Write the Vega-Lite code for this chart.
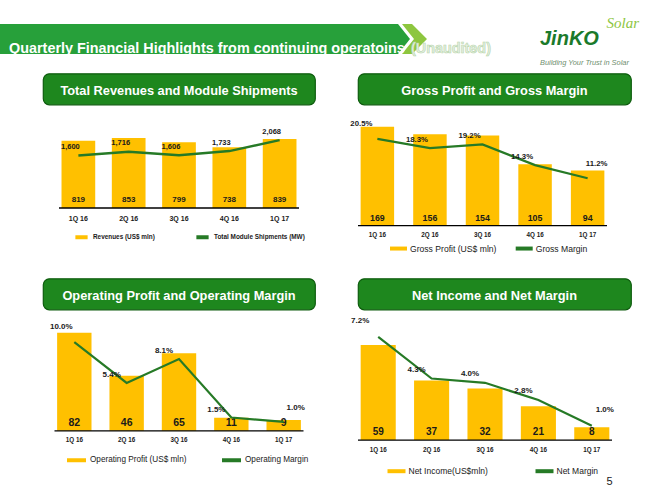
{
  "$schema": "https://vega.github.io/schema/vega-lite/v6.json",
  "background": "white",
  "padding": {"left": 0, "top": 16, "right": 0, "bottom": 0},
  "config": {
    "view": {"stroke": null},
    "font": "Liberation Sans",
    "legend": {"symbolType": "stroke", "symbolStrokeWidth": 4, "padding": 0, "labelColor": "#1a1a1a", "labelLimit": 0, "rowPadding": 0, "labelFont": "Liberation Sans"}
  },
  "datasets": {
    "rev": [
      {"q": "1Q 16", "rev": 819, "ship": 1600},
      {"q": "2Q 16", "rev": 853, "ship": 1716},
      {"q": "3Q 16", "rev": 799, "ship": 1606},
      {"q": "4Q 16", "rev": 738, "ship": 1733},
      {"q": "1Q 17", "rev": 839, "ship": 2068}
    ],
    "gp": [
      {"q": "1Q 16", "v": 169, "m": 0.205},
      {"q": "2Q 16", "v": 156, "m": 0.183},
      {"q": "3Q 16", "v": 154, "m": 0.192},
      {"q": "4Q 16", "v": 105, "m": 0.143},
      {"q": "1Q 17", "v": 94, "m": 0.112}
    ],
    "op": [
      {"q": "1Q 16", "v": 82, "m": 0.100},
      {"q": "2Q 16", "v": 46, "m": 0.054},
      {"q": "3Q 16", "v": 65, "m": 0.081},
      {"q": "4Q 16", "v": 11, "m": 0.015},
      {"q": "1Q 17", "v": 9, "m": 0.010}
    ],
    "ni": [
      {"q": "1Q 16", "v": 59, "m": 0.072},
      {"q": "2Q 16", "v": 37, "m": 0.043},
      {"q": "3Q 16", "v": 32, "m": 0.040},
      {"q": "4Q 16", "v": 21, "m": 0.028},
      {"q": "1Q 17", "v": 8, "m": 0.010}
    ]
  },
  "columns": 2,
  "align": "each",
  "center": true,
  "bounds": "flush",
  "spacing": {"row": 19.5, "column": -5},
  "resolve": {"scale": {"color": "independent"}},
  "concat": [
    {
      "width": 358, "height": 30,
      "view": {"fill": "#27a03a", "stroke": null},
      "data": {"values": [{"t": "Quarterly Financial Highlights from continuing operatoins", "u": "(Unaudited)"}]},
      "layer": [
        {"mark": {"type": "point", "shape": "M-1,-15H40L52,0L40,15H-1Z", "size": 4, "filled": true, "fill": "#27a03a", "strokeWidth": 0, "opacity": 1}, "encoding": {"x": {"value": "width"}}},
        {"mark": {"type": "point", "shape": "M44,-15H54L69,0L54,15H44L56,0Z", "size": 4, "filled": true, "fill": "#8dc63f", "strokeWidth": 0, "opacity": 1}, "encoding": {"x": {"value": "width"}}},
        {"mark": {"type": "text", "align": "left", "baseline": "alphabetic", "dx": 9, "dy": -1.5, "fontWeight": "bold", "fontSize": 14.4, "color": "white"}, "encoding": {"x": {"value": 0}, "y": {"value": "height"}, "text": {"field": "t"}}},
        {"mark": {"type": "text", "align": "left", "baseline": "alphabetic", "dx": 53, "dy": -1.5, "fontWeight": "bold", "fontSize": 14.4, "fill": "#e6f0e2", "stroke": "#b9d6ad", "strokeWidth": 0.6}, "encoding": {"x": {"value": "width"}, "y": {"value": "height"}, "text": {"field": "u"}}}
      ]
    },
    {
      "width": 273, "height": 30,
      "data": {"values": [{"j": "JinKO", "s": "Solar", "b": "Building Your Trust in Solar"}]},
      "layer": [
        {"mark": {"type": "text", "align": "left", "baseline": "alphabetic", "dx": 45.5, "dy": 6, "fontWeight": "bold", "fontStyle": "italic", "fontSize": 20, "color": "#1b7a2b"}, "encoding": {"text": {"field": "j"}}},
        {"mark": {"type": "text", "align": "left", "baseline": "alphabetic", "dx": 112, "dy": -11, "font": "Liberation Serif", "fontStyle": "italic", "fontSize": 15, "color": "#8dc63f"}, "encoding": {"text": {"field": "s"}}},
        {"mark": {"type": "text", "align": "left", "baseline": "alphabetic", "dx": 45.5, "dy": 25.5, "fontStyle": "italic", "fontSize": 7.4, "color": "#6f8f6f"}, "encoding": {"text": {"field": "b"}}}
      ]
    },
    {
      "width": 272, "height": 31,
      "view": {"fill": "#1e871e", "stroke": "#0e5c0e", "strokeWidth": 1.2, "cornerRadius": 6},
      "data": {"values": [{"h": "Total Revenues and Module Shipments"}]},
      "mark": {"type": "text", "baseline": "middle", "dy": 2, "fontWeight": "bold", "fontSize": 12.8, "color": "white"},
      "encoding": {"text": {"field": "h"}}
    },
    {
      "width": 273, "height": 31,
      "view": {"fill": "#1e871e", "stroke": "#0e5c0e", "strokeWidth": 1.2, "cornerRadius": 6},
      "data": {"values": [{"h": "Gross Profit and Gross Margin"}]},
      "mark": {"type": "text", "baseline": "middle", "dy": 2, "fontWeight": "bold", "fontSize": 12.8, "color": "white"},
      "encoding": {"text": {"field": "h"}}
    },
    {
      "width": 240, "height": 134.2,
      "data": {"name": "rev"},
      "layer": [
        {"mark": {"type": "bar"}, "encoding": {"x": {"field": "q", "type": "ordinal", "sort": null, "scale": {"paddingInner": 0.33, "paddingOuter": 0.05}, "axis": null}, "y": {"field": "rev", "type": "quantitative", "scale": {"domain": [-610.7, 1021.9], "nice": false}, "axis": null}, "color": {"datum": "Revenues (US$ mln)", "scale": {"domain": ["Revenues (US$ mln)", "Total Module Shipments (MW)"], "range": ["#ffc000", "#267a26"]}, "legend": {"title": null, "orient": "none", "legendX": 14, "legendY": 104.5, "direction": "horizontal", "symbolSize": 150, "columnPadding": 33, "labelOffset": 3, "labelFontSize": 6.4, "labelFontWeight": "bold"}}}},
        {"data": {"values": [{"b": 0}]}, "mark": {"type": "rule", "color": "#000000", "strokeWidth": 1.3}, "encoding": {"y": {"field": "b", "type": "quantitative", "scale": {"domain": [-610.7, 1021.9], "nice": false}, "axis": null}}},
        {"mark": {"type": "text", "baseline": "middle", "dy": -8, "fontWeight": "bold", "fontSize": 8, "color": "#1a1a1a"}, "encoding": {"x": {"field": "q", "type": "ordinal", "sort": null}, "y": {"datum": 0, "type": "quantitative", "scale": {"domain": [-610.7, 1021.9], "nice": false}, "axis": null}, "text": {"field": "rev"}}},
        {"mark": {"type": "text", "baseline": "middle", "dy": 11, "fontWeight": "bold", "fontSize": 7, "color": "#1a1a1a"}, "encoding": {"x": {"field": "q", "type": "ordinal", "sort": null}, "y": {"datum": 0, "type": "quantitative", "scale": {"domain": [-610.7, 1021.9], "nice": false}, "axis": null}, "text": {"field": "q"}}},
        {"mark": {"type": "line", "strokeWidth": 2.5}, "encoding": {"x": {"field": "q", "type": "ordinal", "sort": null}, "y": {"field": "ship", "type": "quantitative", "scale": {"domain": [-1529.1, 2558.6], "nice": false}, "axis": null}, "color": {"datum": "Total Module Shipments (MW)", "scale": {"domain": ["Revenues (US$ mln)", "Total Module Shipments (MW)"], "range": ["#ffc000", "#267a26"]}, "legend": {"title": null, "orient": "none", "legendX": 14, "legendY": 104.5, "direction": "horizontal", "symbolSize": 150, "columnPadding": 33, "labelOffset": 3, "labelFontSize": 6.4, "labelFontWeight": "bold"}}}},
        {"mark": {"type": "text", "baseline": "middle", "dx": -8, "dy": -8.5, "fontWeight": "bold", "fontSize": 7.5, "color": "#1a1a1a"}, "encoding": {"x": {"field": "q", "type": "ordinal", "sort": null}, "y": {"field": "ship", "type": "quantitative", "scale": {"domain": [-1529.1, 2558.6], "nice": false}, "axis": null}, "text": {"field": "ship", "format": ","}}}
      ],
      "resolve": {"scale": {"y": "independent"}}
    },
    {
      "width": 249, "height": 134.2,
      "data": {"name": "gp"},
      "layer": [
        {"mark": {"type": "bar"}, "encoding": {"x": {"field": "q", "type": "ordinal", "sort": null, "scale": {"paddingInner": 0.363, "paddingOuter": 0.05}, "axis": null}, "y": {"field": "v", "type": "quantitative", "scale": {"domain": [-55.5, 173.5], "nice": false}, "axis": null}, "color": {"datum": "Gross Profit (US$ mln)", "scale": {"domain": ["Gross Profit (US$ mln)", "Gross Margin"], "range": ["#ffc000", "#267a26"]}, "legend": {"title": null, "orient": "none", "legendX": 30, "legendY": 113.8, "direction": "horizontal", "symbolSize": 289, "columnPadding": 10.7, "labelOffset": 1, "labelFontSize": 8.6}}}},
        {"data": {"values": [{"b": 0}]}, "mark": {"type": "rule", "color": "#000000", "strokeWidth": 1.3}, "encoding": {"y": {"field": "b", "type": "quantitative", "scale": {"domain": [-55.5, 173.5], "nice": false}, "axis": null}}},
        {"mark": {"type": "text", "baseline": "middle", "dy": -8, "fontWeight": "bold", "fontSize": 8.8, "color": "#1a1a1a"}, "encoding": {"x": {"field": "q", "type": "ordinal", "sort": null}, "y": {"datum": 0, "type": "quantitative", "scale": {"domain": [-55.5, 173.5], "nice": false}, "axis": null}, "text": {"field": "v"}}},
        {"mark": {"type": "text", "baseline": "middle", "dy": 9.6, "fontWeight": "bold", "fontSize": 6.3, "color": "#1a1a1a"}, "encoding": {"x": {"field": "q", "type": "ordinal", "sort": null}, "y": {"datum": 0, "type": "quantitative", "scale": {"domain": [-55.5, 173.5], "nice": false}, "axis": null}, "text": {"field": "q"}}},
        {"mark": {"type": "line", "strokeWidth": 2.2}, "encoding": {"x": {"field": "q", "type": "ordinal", "sort": null}, "y": {"field": "m", "type": "quantitative", "scale": {"domain": [-0.0767, 0.2401], "nice": false}, "axis": null}, "color": {"datum": "Gross Margin", "scale": {"domain": ["Gross Profit (US$ mln)", "Gross Margin"], "range": ["#ffc000", "#267a26"]}, "legend": {"title": null, "orient": "none", "legendX": 30, "legendY": 113.8, "direction": "horizontal", "symbolSize": 289, "columnPadding": 10.7, "labelOffset": 1, "labelFontSize": 8.6}}}},
        {"transform": [{"filter": "datum.q == '1Q 16'"}], "mark": {"type": "text", "baseline": "middle", "dx": -16, "dy": -15, "fontWeight": "bold", "fontSize": 7.8, "color": "#1a1a1a"}, "encoding": {"x": {"field": "q", "type": "ordinal", "sort": null}, "y": {"field": "m", "type": "quantitative", "scale": {"domain": [-0.0767, 0.2401], "nice": false}, "axis": null}, "text": {"field": "m", "format": ".1%"}}},
        {"transform": [{"filter": "datum.q != '1Q 16' && datum.q != '1Q 17'"}], "mark": {"type": "text", "baseline": "middle", "dx": -13, "dy": -8, "fontWeight": "bold", "fontSize": 7.8, "color": "#1a1a1a"}, "encoding": {"x": {"field": "q", "type": "ordinal", "sort": null}, "y": {"field": "m", "type": "quantitative", "scale": {"domain": [-0.0767, 0.2401], "nice": false}, "axis": null}, "text": {"field": "m", "format": ".1%"}}},
        {"transform": [{"filter": "datum.q == '1Q 17'"}], "mark": {"type": "text", "baseline": "middle", "dx": 9, "dy": -14, "fontWeight": "bold", "fontSize": 7.8, "color": "#1a1a1a"}, "encoding": {"x": {"field": "q", "type": "ordinal", "sort": null}, "y": {"field": "m", "type": "quantitative", "scale": {"domain": [-0.0767, 0.2401], "nice": false}, "axis": null}, "text": {"field": "m", "format": ".1%"}}}
      ],
      "resolve": {"scale": {"y": "independent"}}
    },
    {
      "width": 272, "height": 31,
      "view": {"fill": "#1e871e", "stroke": "#0e5c0e", "strokeWidth": 1.2, "cornerRadius": 6},
      "data": {"values": [{"h": "Operating Profit and Operating Margin"}]},
      "mark": {"type": "text", "baseline": "middle", "dy": 2, "fontWeight": "bold", "fontSize": 12.8, "color": "white"},
      "encoding": {"text": {"field": "h"}}
    },
    {
      "width": 273, "height": 31,
      "view": {"fill": "#1e871e", "stroke": "#0e5c0e", "strokeWidth": 1.2, "cornerRadius": 6},
      "data": {"values": [{"h": "Net Income and Net Margin"}]},
      "mark": {"type": "text", "baseline": "middle", "dy": 2, "fontWeight": "bold", "fontSize": 12.8, "color": "white"},
      "encoding": {"text": {"field": "h"}}
    },
    {
      "width": 249, "height": 111.8,
      "data": {"name": "op"},
      "layer": [
        {"mark": {"type": "bar"}, "encoding": {"x": {"field": "q", "type": "ordinal", "sort": null, "scale": {"paddingInner": 0.343, "paddingOuter": 0.05}, "axis": null}, "y": {"field": "v", "type": "quantitative", "scale": {"domain": [-8.37, 85.19], "nice": false}, "axis": null}, "color": {"datum": "Operating Profit (US$ mln)", "scale": {"domain": ["Operating Profit (US$ mln)", "Operating Margin"], "range": ["#ffc000", "#267a26"]}, "legend": {"title": null, "orient": "none", "legendX": 10.5, "legendY": 119.5, "direction": "horizontal", "symbolSize": 361, "columnPadding": 27, "labelOffset": 2, "labelFontSize": 8.2}}}},
        {"data": {"values": [{"b": 0}]}, "mark": {"type": "rule", "color": "#000000", "strokeWidth": 1.3}, "encoding": {"y": {"field": "b", "type": "quantitative", "scale": {"domain": [-8.37, 85.19], "nice": false}, "axis": null}}},
        {"mark": {"type": "text", "baseline": "middle", "dy": -8, "fontWeight": "bold", "fontSize": 10.5, "color": "#1a1a1a"}, "encoding": {"x": {"field": "q", "type": "ordinal", "sort": null}, "y": {"datum": 0, "type": "quantitative", "scale": {"domain": [-8.37, 85.19], "nice": false}, "axis": null}, "text": {"field": "v"}}},
        {"mark": {"type": "text", "baseline": "middle", "dy": 9, "fontWeight": "bold", "fontSize": 6.3, "color": "#1a1a1a"}, "encoding": {"x": {"field": "q", "type": "ordinal", "sort": null}, "y": {"datum": 0, "type": "quantitative", "scale": {"domain": [-8.37, 85.19], "nice": false}, "axis": null}, "text": {"field": "q"}}},
        {"mark": {"type": "line", "strokeWidth": 2.2}, "encoding": {"x": {"field": "q", "type": "ordinal", "sort": null}, "y": {"field": "m", "type": "quantitative", "scale": {"domain": [-0.01129, 0.1149], "nice": false}, "axis": null}, "color": {"datum": "Operating Margin", "scale": {"domain": ["Operating Profit (US$ mln)", "Operating Margin"], "range": ["#ffc000", "#267a26"]}, "legend": {"title": null, "orient": "none", "legendX": 10.5, "legendY": 119.5, "direction": "horizontal", "symbolSize": 361, "columnPadding": 27, "labelOffset": 2, "labelFontSize": 8.2}}}},
        {"transform": [{"filter": "datum.q == '1Q 16'"}], "mark": {"type": "text", "baseline": "middle", "dx": -13, "dy": -15, "fontWeight": "bold", "fontSize": 8, "color": "#1a1a1a"}, "encoding": {"x": {"field": "q", "type": "ordinal", "sort": null}, "y": {"field": "m", "type": "quantitative", "scale": {"domain": [-0.01129, 0.1149], "nice": false}, "axis": null}, "text": {"field": "m", "format": ".1%"}}},
        {"transform": [{"filter": "datum.q != '1Q 16' && datum.q != '1Q 17'"}], "mark": {"type": "text", "baseline": "middle", "dx": -15, "dy": -8, "fontWeight": "bold", "fontSize": 8, "color": "#1a1a1a"}, "encoding": {"x": {"field": "q", "type": "ordinal", "sort": null}, "y": {"field": "m", "type": "quantitative", "scale": {"domain": [-0.01129, 0.1149], "nice": false}, "axis": null}, "text": {"field": "m", "format": ".1%"}}},
        {"transform": [{"filter": "datum.q == '1Q 17'"}], "mark": {"type": "text", "baseline": "middle", "dx": 12, "dy": -14, "fontWeight": "bold", "fontSize": 8, "color": "#1a1a1a"}, "encoding": {"x": {"field": "q", "type": "ordinal", "sort": null}, "y": {"field": "m", "type": "quantitative", "scale": {"domain": [-0.01129, 0.1149], "nice": false}, "axis": null}, "text": {"field": "m", "format": ".1%"}}}
      ],
      "resolve": {"scale": {"y": "independent"}}
    },
    {
      "width": 254, "height": 111.8,
      "data": {"name": "ni"},
      "layer": [
        {"mark": {"type": "bar"}, "encoding": {"x": {"field": "q", "type": "ordinal", "sort": null, "scale": {"paddingInner": 0.343, "paddingOuter": 0.05}, "axis": null}, "y": {"field": "v", "type": "quantitative", "scale": {"domain": [-0.435, 69.0], "nice": false}, "axis": null}, "color": {"datum": "Net Income(US$mln)", "scale": {"domain": ["Net Income(US$mln)", "Net Margin"], "range": ["#ffc000", "#267a26"]}, "legend": {"title": null, "orient": "none", "legendX": 27.5, "legendY": 131.2, "direction": "horizontal", "symbolSize": 324, "columnPadding": 39, "labelOffset": 1, "labelFontSize": 8.5}}}},
        {"data": {"values": [{"b": 0}]}, "mark": {"type": "rule", "color": "#000000", "strokeWidth": 1.3}, "encoding": {"y": {"field": "b", "type": "quantitative", "scale": {"domain": [-0.435, 69.0], "nice": false}, "axis": null}}},
        {"mark": {"type": "text", "baseline": "middle", "dy": -8, "fontWeight": "bold", "fontSize": 10, "color": "#1a1a1a"}, "encoding": {"x": {"field": "q", "type": "ordinal", "sort": null}, "y": {"datum": 0, "type": "quantitative", "scale": {"domain": [-0.435, 69.0], "nice": false}, "axis": null}, "text": {"field": "v"}}},
        {"mark": {"type": "text", "baseline": "middle", "dy": 9.7, "fontWeight": "bold", "fontSize": 6.3, "color": "#1a1a1a"}, "encoding": {"x": {"field": "q", "type": "ordinal", "sort": null}, "y": {"datum": 0, "type": "quantitative", "scale": {"domain": [-0.435, 69.0], "nice": false}, "axis": null}, "text": {"field": "q"}}},
        {"mark": {"type": "line", "strokeWidth": 2.2}, "encoding": {"x": {"field": "q", "type": "ordinal", "sort": null}, "y": {"field": "m", "type": "quantitative", "scale": {"domain": [-0.000489, 0.07758], "nice": false}, "axis": null}, "color": {"datum": "Net Margin", "scale": {"domain": ["Net Income(US$mln)", "Net Margin"], "range": ["#ffc000", "#267a26"]}, "legend": {"title": null, "orient": "none", "legendX": 27.5, "legendY": 131.2, "direction": "horizontal", "symbolSize": 324, "columnPadding": 39, "labelOffset": 1, "labelFontSize": 8.5}}}},
        {"transform": [{"filter": "datum.q == '1Q 16'"}], "mark": {"type": "text", "baseline": "middle", "dx": -18, "dy": -16, "fontWeight": "bold", "fontSize": 8, "color": "#1a1a1a"}, "encoding": {"x": {"field": "q", "type": "ordinal", "sort": null}, "y": {"field": "m", "type": "quantitative", "scale": {"domain": [-0.000489, 0.07758], "nice": false}, "axis": null}, "text": {"field": "m", "format": ".1%"}}},
        {"transform": [{"filter": "datum.q != '1Q 16' && datum.q != '1Q 17'"}], "mark": {"type": "text", "baseline": "middle", "dx": -15, "dy": -9, "fontWeight": "bold", "fontSize": 8, "color": "#1a1a1a"}, "encoding": {"x": {"field": "q", "type": "ordinal", "sort": null}, "y": {"field": "m", "type": "quantitative", "scale": {"domain": [-0.000489, 0.07758], "nice": false}, "axis": null}, "text": {"field": "m", "format": ".1%"}}},
        {"transform": [{"filter": "datum.q == '1Q 17'"}], "mark": {"type": "text", "baseline": "middle", "dx": 13, "dy": -16, "fontWeight": "bold", "fontSize": 8, "color": "#1a1a1a"}, "encoding": {"x": {"field": "q", "type": "ordinal", "sort": null}, "y": {"field": "m", "type": "quantitative", "scale": {"domain": [-0.000489, 0.07758], "nice": false}, "axis": null}, "text": {"field": "m", "format": ".1%"}}},
        {"data": {"values": [{"p": "5"}]}, "mark": {"type": "text", "baseline": "middle", "dx": -2.5, "dy": 41, "fontSize": 11, "color": "#1a1a1a"}, "encoding": {"x": {"value": "width"}, "y": {"value": "height"}, "text": {"field": "p"}}}
      ],
      "resolve": {"scale": {"y": "independent"}}
    }
  ]
}
